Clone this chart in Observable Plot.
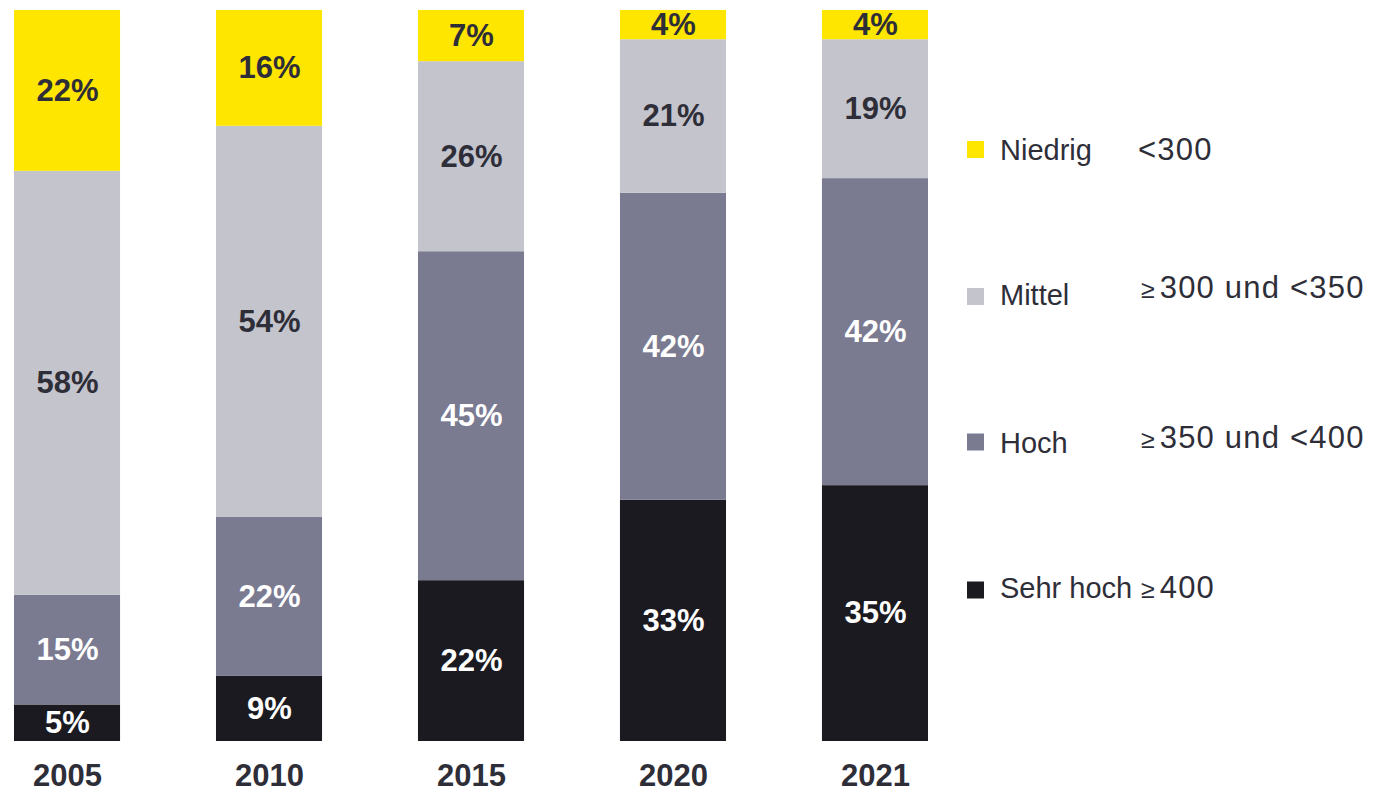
<!DOCTYPE html>
<html>
<head>
<meta charset="utf-8">
<script src="https://cdn.jsdelivr.net/npm/d3@7"></script>
<script src="https://cdn.jsdelivr.net/npm/@observablehq/plot@0.6"></script>
<style>
  html, body { margin: 0; padding: 0; background: #fff; }
  #wrap { position: relative; width: 1374px; height: 792px; font-family: "Liberation Sans", Arial, sans-serif; }
  #legend { position: absolute; left: 0; top: 0; pointer-events: none; }
</style>
</head>
<body>
<div id="wrap"></div>
<script>
// ---- data ----
const years = ["2005", "2010", "2015", "2020", "2021"];
const categories = ["Sehr hoch", "Hoch", "Mittel", "Niedrig"]; // bottom -> top
const sehrHoch = [5, 9, 22, 33, 35];
const hoch     = [15, 22, 45, 42, 42];
const mittel   = [58, 54, 26, 21, 19];
const niedrig  = [22, 16, 7, 4, 4];
const colors   = ["#1A1A20", "#7A7A91", "#C4C4CD", "#FFE600"];
const textColors = ["#FFFFFF", "#FFFFFF", "#2E2E38", "#2E2E38"];
const legendNames  = ["Niedrig", "Mittel", "Hoch", "Sehr hoch"];
const legendRanges = ["<300", "≥300 und <350", "≥350 und <400", "≥400"];

const series = [sehrHoch, hoch, mittel, niedrig];
const rows = [];
categories.forEach((c, ci) => {
  years.forEach((y, yi) => rows.push({year: y, cat: c, value: series[ci][yi]}));
});

const stackOpts = {x: "year", y: "value", z: "cat", offset: "normalize"};

const chart = Plot.plot({
  width: 1374,
  height: 792,
  marginLeft: 14,
  marginRight: 446,
  marginTop: 10,
  marginBottom: 51,
  style: {fontFamily: "'Liberation Sans', Arial, sans-serif", color: "#2E2E38", background: "#fff"},
  x: {domain: years, paddingInner: 0.475, paddingOuter: 0, round: false, label: null},
  y: {domain: [0, 1], axis: null},
  color: {domain: categories, range: colors},
  marks: [
    Plot.barY(rows, Plot.stackY({...stackOpts, fill: "cat"})),
    Plot.text(rows, Plot.stackY({
      ...stackOpts,
      text: d => d.value + "%",
      fill: d => textColors[categories.indexOf(d.cat)],
      fontSize: 31,
      fontWeight: "bold"
    })),
    Plot.axisX({tickSize: 0, tickPadding: 22, fontSize: 31, fontWeight: "bold", label: null})
  ]
});
document.getElementById("wrap").appendChild(chart);

// ---- legend ----
const legendSquareY = [149.5, 296.5, 442, 590];
const nameBase = [160, 305, 453, 598];
const rangeBase = [160, 298, 448, 598];
const legendColors = ["#FFE600", "#C4C4CD", "#7A7A91", "#1A1A20"];

const svg = d3.select("#wrap").append("svg")
  .attr("id", "legend").attr("width", 1374).attr("height", 792)
  .style("font-family", "'Liberation Sans', Arial, sans-serif");

legendNames.forEach((n, i) => {
  svg.append("rect").attr("x", 967).attr("y", legendSquareY[i] - 8.5)
    .attr("width", 17).attr("height", 17).attr("fill", legendColors[i]);
  svg.append("text").attr("x", 1000).attr("y", nameBase[i])
    .attr("font-size", 29).attr("fill", "#2E2E38").text(n);
  const r = legendRanges[i];
  const t = svg.append("text").attr("y", rangeBase[i]).attr("font-size", 31)
    .attr("letter-spacing", 1.2).attr("fill", "#2E2E38");
  if (r.startsWith("≥")) {
    t.attr("x", 1141);
    t.append("tspan").attr("font-size", 25).attr("letter-spacing", 0).text("≥");
    t.append("tspan").attr("dx", 5).text(r.slice(1));
  } else {
    t.attr("x", 1138).text(r);
  }
});
</script>
</body>
</html>
